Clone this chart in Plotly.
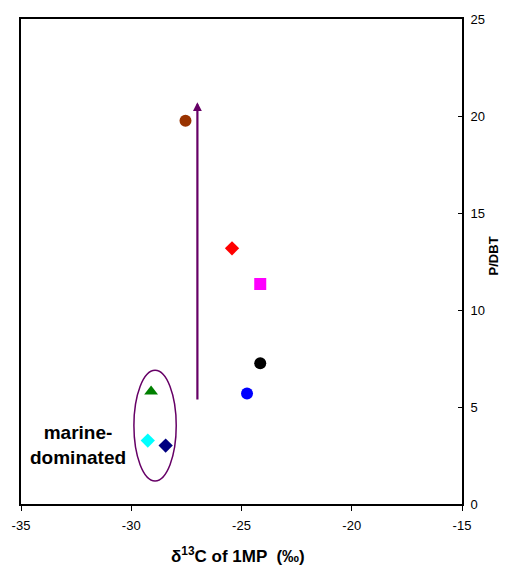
import plotly.graph_objects as go

# data
d13c = [-27.54, -25.43, -24.15, -24.15, -24.75, -29.10, -29.25, -28.44]
p_dbt = [19.76, 13.18, 11.34, 7.26, 5.70, 5.80, 3.27, 3.01]

# styles
colors = ["#993300", "#FF0000", "#FF00FF", "#000000", "#0000FF", "#008000", "#00FFFF", "#000080"]
symbols = ["circle", "diamond", "square", "circle", "circle", "triangle-up", "diamond", "diamond"]
sizes = [12, 11, 12, 12, 12, 12, 11, 11]

arrow_x = -27.0
arrow_y = [5.31, 20.71]
ellipse_x = [-29.88, -27.96]
ellipse_y = [1.19, 6.89]

x_ticks = [-35, -30, -25, -20, -15]
y_ticks = [0, 5, 10, 15, 20, 25]

fig = go.Figure()
for xv, yv, c, s, sz in zip(d13c, p_dbt, colors, symbols, sizes):
    fig.add_trace(go.Scatter(x=[xv], y=[yv], mode="markers",
                             marker=dict(color=c, symbol=s, size=sz, line=dict(width=0)),
                             showlegend=False, hoverinfo="skip"))

fig.add_shape(type="circle", xref="x", yref="y",
              x0=ellipse_x[0], x1=ellipse_x[1], y0=ellipse_y[0], y1=ellipse_y[1],
              line=dict(color="#660066", width=1.5))

fig.add_annotation(x=arrow_x, y=arrow_y[1], ax=arrow_x, ay=arrow_y[0],
                   xref="x", yref="y", axref="x", ayref="y",
                   showarrow=True, arrowhead=2, arrowsize=0.8, arrowwidth=2.2,
                   arrowcolor="#660066", text="")

fig.add_annotation(x=-32.4, y=3.05, xref="x", yref="y", text="<b>marine-<br>dominated</b>",
                   showarrow=False, font=dict(family="Arial", size=19, color="#000000"),
                   align="center", xanchor="center", yanchor="middle")

fig.add_annotation(x=0.493, y=-0.106, xref="paper", yref="paper",
                   text="<b>δ<sup>13</sup>C of 1MP  (‰)</b>", showarrow=False,
                   font=dict(family="Arial", size=17, color="#000000"),
                   xanchor="center", yanchor="middle")

fig.add_annotation(x=1.072, y=0.512, xref="paper", yref="paper",
                   text="<b>P/DBT</b>", showarrow=False, textangle=-90,
                   font=dict(family="Arial", size=13, color="#000000"),
                   xanchor="center", yanchor="middle")

fig.update_layout(
    width=506, height=573,
    margin=dict(l=18, r=44, t=14, b=69),
    plot_bgcolor="white", paper_bgcolor="white",
    xaxis=dict(range=[-35, -15], tickvals=x_ticks, ticktext=[str(v) for v in x_ticks],
               showgrid=False, zeroline=False, showline=True, mirror=True,
               linecolor="black", linewidth=2, ticks="outside", ticklen=5,
               tickcolor="black", tickwidth=1, ticklabelstandoff=3,
               tickfont=dict(family="Arial", size=13, color="#000000")),
    yaxis=dict(range=[0, 25], tickvals=y_ticks, side="right",
               showgrid=False, zeroline=False, showline=True, mirror=True,
               linecolor="black", linewidth=2, ticks="inside", ticklen=4,
               tickcolor="black", tickwidth=1, ticklabelstandoff=4,
               tickfont=dict(family="Arial", size=13, color="#000000")),
)

fig.write_html("out.html")
